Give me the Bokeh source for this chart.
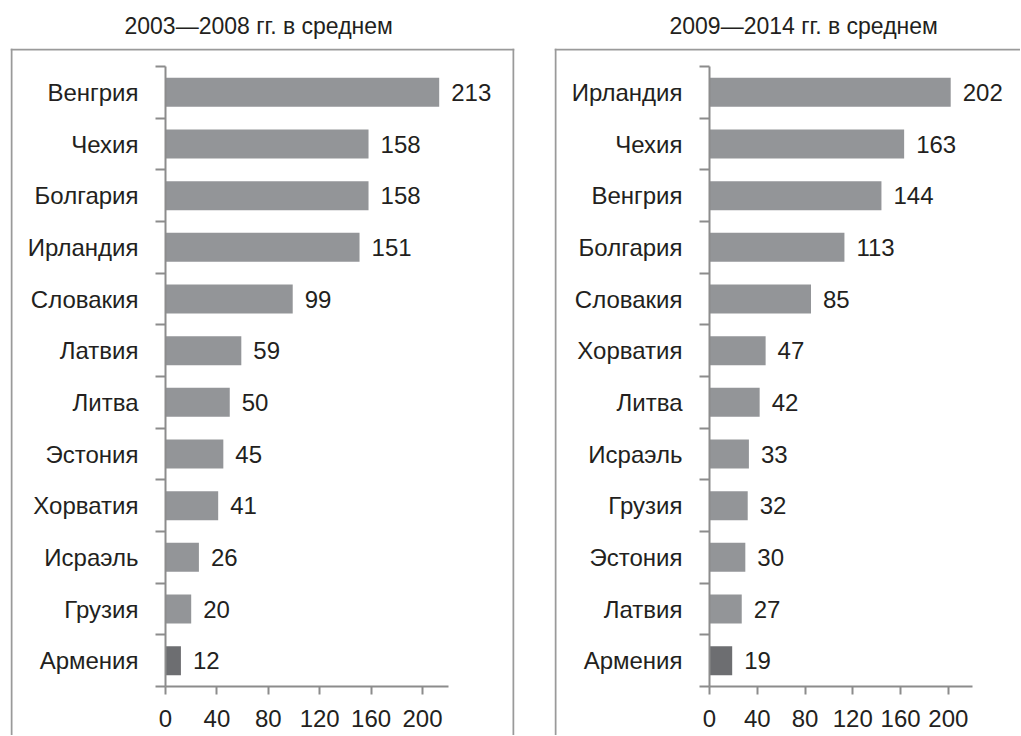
from bokeh.plotting import figure
from bokeh.models import FixedTicker, Range1d, Span, ColumnDataSource, Title
from bokeh.layouts import row
from bokeh.embed import file_html
from bokeh.resources import INLINE
from bokeh.core.properties import value

# Data
title_left = "2003\u20142008 гг. в среднем"
countries_left = ["Венгрия", "Чехия", "Болгария", "Ирландия", "Словакия", "Латвия",
                  "Литва", "Эстония", "Хорватия", "Исраэль", "Грузия", "Армения"]
values_left = [213, 158, 158, 151, 99, 59, 50, 45, 41, 26, 20, 12]

title_right = "2009\u20142014 гг. в среднем"
countries_right = ["Ирландия", "Чехия", "Венгрия", "Болгария", "Словакия", "Хорватия",
                   "Литва", "Исраэль", "Грузия", "Эстония", "Латвия", "Армения"]
values_right = [202, 163, 144, 113, 85, 47, 42, 33, 32, 30, 27, 19]

x_ticks = [0, 40, 80, 120, 160, 200]
x_axis_max = 220
highlight = "Армения"

FONT = "Liberation Sans"
TEXT = "#231f20"
BAR = "#939598"
BAR_HI = "#6d6e71"
AXIS = "#8c8c8c"
FRAME = "#9a9a9a"
H = 735

# layout (pixels)
ROW_TOP = 66.0       # pixel of first category boundary
ROW_H = 51.667       # pixels per category
BOX_TOP = 48.0


def panel(title, countries, values, width, px0, px220, box_l, box_r):
    n = len(countries)
    centers = [i + 0.5 for i in range(n)]
    colors = [BAR_HI if c == highlight else BAR for c in countries]
    src = ColumnDataSource(dict(y=centers, v=values, c=colors,
                                lab=[str(v) for v in values]))
    sx = (px220 - px0) / x_axis_max
    fl = box_l
    fr = min(box_r, width) if box_r is not None else width
    ft = BOX_TOP
    x_start = (fl - px0) / sx
    x_end = (fr - px0) / sx
    y_top = (ft - ROW_TOP) / ROW_H
    y_bot = (H - ROW_TOP) / ROW_H

    p = figure(width=width, height=H, output_backend="svg", toolbar_location=None,
               x_range=Range1d(x_start, x_end), y_range=Range1d(y_bot, y_top),
               min_border_left=int(fl), min_border_right=int(width - fr),
               min_border_top=int(ft), min_border_bottom=0)
    p.title = Title(text=title, align="left", offset=124 - fl,
                    text_font=FONT, text_font_size="23px", text_font_style="normal",
                    text_color=TEXT, standoff=19)
    p.outline_line_color = None
    p.xgrid.visible = False
    p.ygrid.visible = False
    p.background_fill_color = "white"
    p.border_fill_color = "white"

    # open-bottom frame around the panel
    p.add_layout(Span(location=(box_l + 1 - px0) / sx, dimension="height",
                      line_color=FRAME, line_width=2))
    p.add_layout(Span(location=(BOX_TOP + 1 - ROW_TOP) / ROW_H, dimension="width",
                      line_color=FRAME, line_width=2))
    if box_r is not None:
        p.add_layout(Span(location=(box_r - 1 - px0) / sx, dimension="height",
                          line_color=FRAME, line_width=2))

    p.hbar(y="y", right="v", left=0, height=0.56, fill_color="c", line_color=None, source=src)
    p.text(x="v", y="y", text="lab", source=src, x_offset=12, text_baseline="middle",
           text_align="left", text_font=value(FONT), text_font_size="24px", text_color=TEXT)

    ya = p.yaxis[0]
    ya.fixed_location = 0
    ya.bounds = (0, n)
    ya.ticker = FixedTicker(ticks=centers, minor_ticks=list(range(n + 1)))
    ya.major_label_overrides = {c: name for c, name in zip(centers, countries)}
    ya.major_tick_out = 0
    ya.major_tick_in = 0
    ya.minor_tick_out = 10
    ya.minor_tick_in = 0
    ya.minor_tick_line_color = AXIS
    ya.minor_tick_line_width = 2
    ya.axis_line_color = AXIS
    ya.axis_line_width = 2
    ya.major_label_standoff = 17
    ya.major_label_text_font = FONT
    ya.major_label_text_font_size = "24px"
    ya.major_label_text_color = TEXT

    xa = p.xaxis[0]
    xa.fixed_location = n
    xa.bounds = (0, x_axis_max)
    xa.ticker = FixedTicker(ticks=x_ticks, minor_ticks=[])
    xa.major_tick_out = 8
    xa.major_tick_in = 0
    xa.major_tick_line_color = AXIS
    xa.major_tick_line_width = 2
    xa.axis_line_color = AXIS
    xa.axis_line_width = 2
    xa.major_label_standoff = 15
    xa.major_label_text_font = FONT
    xa.major_label_text_font_size = "24px"
    xa.major_label_text_color = TEXT
    return p


# left panel occupies page x 0..545, right panel 545..1020
p1 = panel(title_left, countries_left, values_left, 545, 165.0, 447.7, 10, 514)
p2 = panel(title_right, countries_right, values_right, 475, 164.0, 426.7, 9, None)

layout = row(p1, p2)
open("out.html", "w").write(file_html(layout, INLINE))
